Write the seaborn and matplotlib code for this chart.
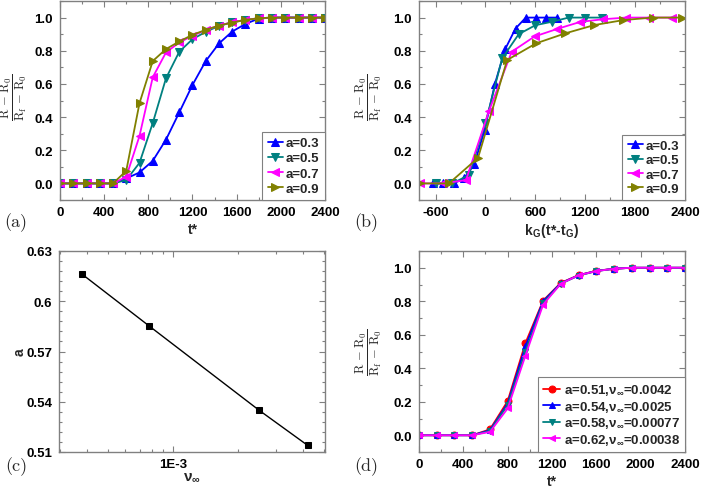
import numpy as np
import pandas as pd
import matplotlib
matplotlib.use("Agg")
import matplotlib.pyplot as plt
from matplotlib.ticker import MultipleLocator, AutoMinorLocator, FormatStrFormatter, NullFormatter, FuncFormatter
import seaborn as sns

# ---- data ----
# (a) normalised resistance vs t*
t_a = [0, 120, 240, 360, 480, 600, 720, 840, 960, 1080, 1200, 1320, 1440, 1560, 1680, 1800, 1920, 2040, 2160, 2280, 2400]
a03 = [0, 0, 0, 0, 0, 0.03, 0.066, 0.136, 0.264, 0.428, 0.594, 0.738, 0.844, 0.916, 0.962, 0.994, 1, 1, 1, 1, 1]
a05 = [0, 0, 0, 0, 0, 0.02, 0.124, 0.364, 0.634, 0.794, 0.87, 0.914, 0.95, 0.972, 0.986, 0.996, 1, 1, 1, 1, 1]
a07 = [0, 0, 0, 0, 0, 0.04, 0.286, 0.64, 0.79, 0.85, 0.89, 0.925, 0.952, 0.972, 0.986, 0.996, 1, 1, 1, 1, 1]
a09 = [0, 0, 0, 0, 0, 0.076, 0.484, 0.738, 0.81, 0.856, 0.896, 0.926, 0.952, 0.97, 0.986, 0.996, 1, 1, 1, 1, 1]

# (b) same curves vs kG(t*-tG)
xb_03 = [-631, -507, -383, -259, -135, -11, 113, 237, 361, 485, 609, 733, 857]
yb_03 = [0, 0, 0, 0.03, 0.116, 0.32, 0.60, 0.81, 0.934, 1.0, 1.0, 1.0, 1.0]
xb_05 = [-600, -400, -200, 0, 200, 400, 600, 800, 1000, 1200, 1400]
yb_05 = [0, 0, 0.05, 0.366, 0.754, 0.90, 0.954, 0.975, 1.0, 1.0, 1.0]
xb_07 = [-785, -510, -235, 40, 315, 590, 865, 1140, 1415, 1690, 1965, 2240]
yb_07 = [0, 0, 0.02, 0.434, 0.794, 0.886, 0.932, 0.974, 0.99, 1.0, 1.0, 1.0]
xb_09 = [-790, -440, -90, 260, 610, 960, 1310, 1660, 2010, 2360]
yb_09 = [0, 0, 0.154, 0.744, 0.845, 0.905, 0.955, 0.985, 1.0, 1.0]

# (c) a vs nu_inf
nu_inf = [0.00038, 0.00077, 0.0025, 0.0042]
a_fit = [0.616, 0.5855, 0.535, 0.514]

# (d) collapsed curves
t_d = [0, 160, 320, 480, 640, 800, 960, 1120, 1280, 1440, 1600, 1760, 1920, 2080, 2240, 2400]
d051 = [0, 0, 0, 0, 0.035, 0.204, 0.55, 0.804, 0.91, 0.956, 0.982, 0.994, 1, 1, 1, 1]
d054 = [0, 0, 0, 0, 0.03, 0.19, 0.53, 0.80, 0.908, 0.955, 0.981, 0.994, 1, 1, 1, 1]
d058 = [0, 0, 0, 0, 0.025, 0.18, 0.50, 0.79, 0.905, 0.953, 0.98, 0.994, 1, 1, 1, 1]
d062 = [0, 0, 0, 0, 0.02, 0.16, 0.475, 0.78, 0.905, 0.955, 0.98, 0.994, 1, 1, 1, 1]

labels_a = ["a=0.3", "a=0.5", "a=0.7", "a=0.9"]
labels_d = [r"a=0.51,$\mathsf{\nu_\infty}$=0.0042", r"a=0.54,$\mathsf{\nu_\infty}$=0.0025",
            r"a=0.58,$\mathsf{\nu_\infty}$=0.00077", r"a=0.62,$\mathsf{\nu_\infty}$=0.00038"]

BLUE, TEAL, MAG, OLIVE, RED = "#0000ff", "#008080", "#ff00ff", "#808000", "#ff0000"
GRAY = "#808080"

sns.set_theme(style="ticks")
plt.rcParams["font.family"] = ["Liberation Sans", "DejaVu Sans"]
plt.rcParams["font.weight"] = "bold"
plt.rcParams["axes.unicode_minus"] = False
plt.rcParams["mathtext.fontset"] = "custom"
plt.rcParams["mathtext.rm"] = "cmr10"
plt.rcParams["mathtext.it"] = "cmmi10"
plt.rcParams["mathtext.bf"] = "cmb10"
plt.rcParams["mathtext.sf"] = "Liberation Sans:bold"
plt.rcParams["axes.edgecolor"] = GRAY
plt.rcParams["axes.linewidth"] = 1.0

fig = plt.figure(figsize=(7.02, 4.89), dpi=100)
W, H = 702, 489


def add_ax(x0, x1, y0, y1):
    return fig.add_axes([x0 / W, 1 - y1 / H, (x1 - x0) / W, (y1 - y0) / H])


def fig_text(x, y, s, **kw):
    fig.text(x / W, 1 - y / H, s, ha="center", va="center", **kw)


ax_a = add_ax(60, 325, 2, 201)
ax_b = add_ax(419, 685, 2, 201)
ax_c = add_ax(59, 325, 252, 453)
ax_d = add_ax(419, 685, 252, 453)

ylab = r"$\dfrac{\mathrm{R\,-\,R_0}}{\mathrm{R_f\,-\,R_0}}$"


def style(ax):
    ax.tick_params(which="both", direction="in", top=True, right=True, color=GRAY,
                   labelsize=9.5, labelcolor="black", width=0.8)
    ax.tick_params(which="major", length=4, pad=5)
    ax.tick_params(which="minor", length=2)
    ax.tick_params(axis="x", pad=4)
    for lab in ax.get_xticklabels() + ax.get_yticklabels():
        lab.set_fontweight("bold")


def curve(ax, x, y, color, marker, label, ms=5.5):
    sns.lineplot(x=x, y=y, ax=ax, color=color, marker=marker, markersize=ms,
                 markeredgecolor=color, linewidth=1.3, label=label, sort=False)


def legend(ax, spacing, hlen):
    leg = ax.legend(loc="lower right", borderaxespad=0, fancybox=False, framealpha=1,
                    edgecolor=GRAY, handlelength=hlen, labelspacing=spacing,
                    borderpad=0.4, handletextpad=0.25,
                    prop={"size": 9.5, "weight": "bold"})
    leg.get_frame().set_linewidth(0.8)


def sigmoid_axes(ax):
    ax.set_ylim(-0.1, 1.1)
    ax.yaxis.set_major_locator(MultipleLocator(0.2))
    ax.yaxis.set_minor_locator(MultipleLocator(0.1))
    ax.yaxis.set_major_formatter(FormatStrFormatter("%.1f"))


# (a)
for y, c, m, l in zip([a03, a05, a07, a09], [BLUE, TEAL, MAG, OLIVE], ["^", "v", "<", ">"], labels_a):
    curve(ax_a, t_a, y, c, m, l)
ax_a.set_xlim(0, 2400)
ax_a.xaxis.set_major_locator(MultipleLocator(400))
ax_a.xaxis.set_minor_locator(MultipleLocator(200))
sigmoid_axes(ax_a)
ax_a.set_xlabel("t*", fontsize=10, fontweight="bold")
ax_a.xaxis.set_label_coords(0.5, -0.11)
ax_a.set_ylabel("")
style(ax_a)
legend(ax_a, 0.22, 1.15)

# (b)
for x, y, c, m, l in zip([xb_03, xb_05, xb_07, xb_09], [yb_03, yb_05, yb_07, yb_09],
                         [BLUE, TEAL, MAG, OLIVE], ["^", "v", "<", ">"], labels_a):
    curve(ax_b, x, y, c, m, l)
ax_b.set_xlim(-800, 2400)
ax_b.xaxis.set_major_locator(MultipleLocator(600))
ax_b.xaxis.set_minor_locator(MultipleLocator(300))
sigmoid_axes(ax_b)
ax_b.set_xlabel(r"k$_\mathsf{G}$(t*-t$_\mathsf{G}$)", fontsize=10, fontweight="bold")
ax_b.xaxis.set_label_coords(0.5, -0.105)
ax_b.set_ylabel("")
style(ax_b)
legend(ax_b, 0.15, 1.15)

# (c)
sns.lineplot(x=nu_inf, y=a_fit, ax=ax_c, color="black", marker="s", markersize=4.5,
             markeredgecolor="black", linewidth=1.0)
ax_c.set_xscale("log")
ax_c.set_xlim(2.96e-4, 5.06e-3)
ax_c.set_xticks([1e-3])
ax_c.set_xticklabels(["1E-3"])
ax_c.xaxis.set_minor_formatter(NullFormatter())
ax_c.set_ylim(0.51, 0.63)
ax_c.yaxis.set_major_locator(MultipleLocator(0.03))
ax_c.yaxis.set_minor_locator(AutoMinorLocator(5))
ax_c.yaxis.set_major_formatter(FuncFormatter(lambda v, p: "%g" % round(v, 2)))
ax_c.set_ylabel("a", fontsize=10, fontweight="bold")
ax_c.yaxis.set_label_coords(-0.12, 0.5)
ax_c.set_xlabel(r"$\mathsf{\nu_\infty}$", fontsize=11)
ax_c.xaxis.set_label_coords(0.5, -0.085)
style(ax_c)

# (d)
for y, c, m, l in zip([d051, d054, d058, d062], [RED, BLUE, TEAL, MAG], ["o", "^", "v", "<"], labels_d):
    curve(ax_d, t_d, y, c, m, l, ms=5)
ax_d.set_xlim(0, 2400)
ax_d.xaxis.set_major_locator(MultipleLocator(400))
ax_d.xaxis.set_minor_locator(MultipleLocator(200))
sigmoid_axes(ax_d)
ax_d.set_xlabel("t*", fontsize=10, fontweight="bold")
ax_d.xaxis.set_label_coords(0.5, -0.11)
ax_d.set_ylabel("")
style(ax_d)
legend(ax_d, 0.12, 1.3)

# fraction y-labels, placed by their centres
for x, y in [(14, 97), (369, 97), (369, 352)]:
    fig_text(x, y, ylab, rotation=90, fontsize=9)

for txt, x, y in [("(a)", 16, 223), ("(b)", 366, 223), ("(c)", 16, 467), ("(d)", 366, 467)]:
    fig_text(x, y, txt, family="cmr10", fontsize=13, fontweight="normal")

fig.savefig("out.png", dpi=100)
